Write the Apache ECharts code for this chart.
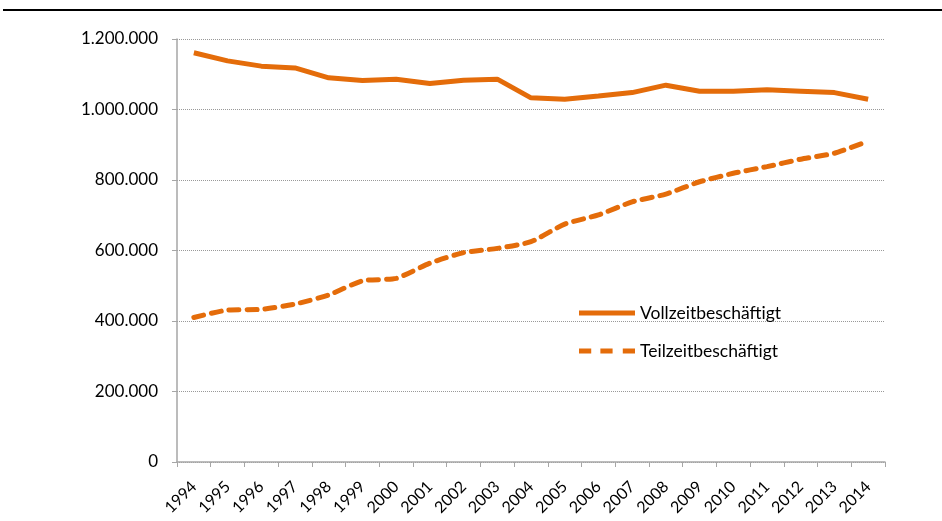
<!DOCTYPE html>
<html>
<head>
<meta charset="utf-8">
<script src="https://cdn.jsdelivr.net/npm/echarts@6/dist/echarts.min.js"></script>
<style>
html, body { margin: 0; padding: 0; background: #fff; }
#chart { width: 942px; height: 521px; }
</style>
</head>
<body>
<div id="chart"></div>
<script>
// Jahre (x-Achse)
var years = ['1994', '1995', '1996', '1997', '1998', '1999', '2000', '2001', '2002', '2003', '2004',
	'2005', '2006', '2007', '2008', '2009', '2010', '2011', '2012', '2013', '2014'];

// Vollzeitbeschäftigt
var vollzeit = [1161000, 1138000, 1123000, 1118000, 1090000, 1082000, 1086000, 1074000, 1083000, 1086000, 1033000,
	1029000, 1038000, 1048000, 1069000, 1052000, 1052000, 1056000, 1052000, 1048000, 1029000];

// Teilzeitbeschäftigt
var teilzeit = [410000, 431000, 433000, 448000, 474000, 514000, 521000, 564000, 594000, 606000, 625000,
	675000, 701000, 738000, 760000, 795000, 819000, 838000, 859000, 876000, 910000];

var orange = '#E46C0A';
var font = 'Lato, "Open Sans", sans-serif';

// Tausenderpunkt wie im Original
function fmt(v) {
	return String(v).replace(/\B(?=(\d{3})+(?!\d))/g, '.');
}

var myChart = echarts.init(document.getElementById('chart'));

var option = {
	backgroundColor: '#ffffff',
	animation: false,
	graphic: [{
		type: 'rect',
		shape: { x: 3, y: 9, width: 939, height: 2 },
		style: { fill: '#000000' }
	}],
	legend: {
		orient: 'vertical',
		left: 574,
		top: 299,
		itemWidth: 56,
		itemHeight: 14,
		itemGap: 20,
		textStyle: { fontFamily: font, fontSize: 17.5, color: '#000' },
		data: [{
			name: 'Vollzeitbeschäftigt',
			icon: 'path://M0,0H56V5H0Z',
			itemStyle: { color: orange }
		}, {
			name: 'Teilzeitbeschäftigt',
			icon: 'path://M0,0H12V5H0ZM21,0H33V5H21ZM43,0H55V5H43Z',
			itemStyle: { color: orange }
		}]
	},
	grid: {
		left: 177,
		right: 57,
		top: 39,
		bottom: 59,
		containLabel: false
	},
	xAxis: {
		type: 'category',
		boundaryGap: true,
		data: years,
		axisLine: { lineStyle: { color: '#a6a6a6', width: 1.5 } },
		axisTick: { show: true, length: 5, lineStyle: { color: '#a6a6a6' } },
		axisLabel: {
			rotate: 45,
			interval: 0,
			margin: 22,
			fontFamily: font,
			fontSize: 16,
			color: '#000'
		}
	},
	yAxis: {
		type: 'value',
		min: 0,
		max: 1200000,
		interval: 200000,
		axisLine: { show: true, lineStyle: { color: '#a6a6a6', width: 1.5 } },
		axisTick: { show: true, length: 5, lineStyle: { color: '#a6a6a6' } },
		axisLabel: {
			margin: 19,
			fontFamily: font,
			fontSize: 17,
			color: '#000',
			formatter: fmt
		},
		splitLine: {
			show: true,
			lineStyle: { color: '#999', type: [1, 1], width: 1 }
		}
	},
	series: [{
		name: 'Vollzeitbeschäftigt',
		type: 'line',
		data: vollzeit,
		symbol: 'none',
		lineStyle: { color: orange, width: 5 },
		itemStyle: { color: orange }
	}, {
		name: 'Teilzeitbeschäftigt',
		type: 'line',
		data: teilzeit,
		symbol: 'none',
		smooth: 0.2,
		lineStyle: { color: orange, width: 5, type: [10, 8], cap: 'round' },
		itemStyle: { color: orange }
	}]
};

myChart.setOption(option);
</script>
</body>
</html>
